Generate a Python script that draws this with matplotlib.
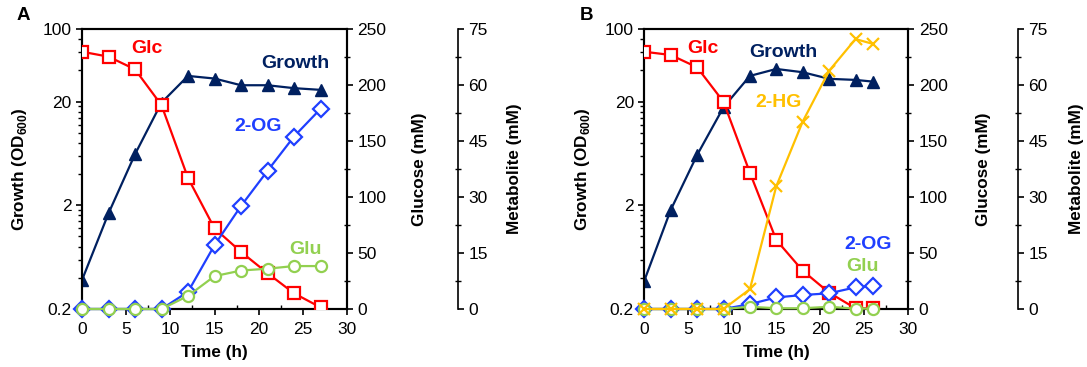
import matplotlib
matplotlib.use("Agg")
import matplotlib.pyplot as plt
from matplotlib.ticker import FixedLocator, NullFormatter

plt.rcParams['font.family'] = ['Liberation Sans', 'DejaVu Sans']
plt.rcParams['mathtext.fontset'] = 'custom'
plt.rcParams['mathtext.rm'] = 'Liberation Sans'
plt.rcParams['mathtext.bf'] = 'Liberation Sans:bold'

# ---- data: panel A ----
time_a = [0, 3, 6, 9, 12, 15, 18, 21, 24, 27]
growth_a = [0.38, 1.67, 6.2, 19.5, 35.3, 33.3, 28.7, 28.7, 26.9, 25.9]
glc_a = [229.7, 225.3, 214, 182, 117, 72, 51, 32, 14, 1.5]
og_a = [0, 0, 0, 0, 4.6, 17.1, 27.6, 37.0, 46.2, 53.6]
glu_a = [0, 0, 0, 0, 3.5, 8.8, 10.3, 10.8, 11.5, 11.5]

# ---- data: panel B ----
time_b = [0, 3, 6, 9, 12, 15, 18, 21, 24, 26]
growth_b = [0.375, 1.8, 6.1, 17.6, 35.3, 41.2, 38.3, 33.1, 32.3, 31.1]
glc_b = [229.7, 226.8, 215.8, 185, 121.7, 61.6, 34.2, 14.6, 0.6, 0.5]
hg_b = [0, 0, 0, 0, 5.3, 32.9, 50.2, 63.8, 72.3, 71.0]
og_b = [0, 0, 0, 0, 1.3, 3.1, 3.75, 4.2, 5.8, 6.2]
glu_b = [0, 0, 0, 0, 0.6, 0.2, 0.2, 0.6, 0.1, 0.1]

NAVY = '#002060'
RED = '#FF0000'
BLUE = '#1F3FFF'
GREEN = '#92D050'
ORANGE = '#FFC000'

W, H = 1087, 367
fig = plt.figure(figsize=(W / 100, H / 100), dpi=100)

lw = 1.6
mew = 1.6
TS = 12.5   # tick label size
LS = 12.3   # axis label size


def panel(left_px, width_px, letter, t, growth, glc, mets, labels, label_pos, label_coords):
    ax = fig.add_axes([left_px / W, (H - 309) / H, width_px / W, 280 / H])
    ax2 = ax.twinx()
    ax3 = ax.twinx()

    # growth (log)
    ax.set_yscale('log')
    ax.set_ylim(0.2, 100)
    ax.set_xlim(0, 30)
    ax.plot(t, growth, color=NAVY, lw=lw, marker='^', ms=8, mfc=NAVY, mec=NAVY, zorder=3)
    ax.set_yticks([0.2, 2, 20, 100])
    ax.set_yticklabels(['0.2', '2', '20', '100'])
    minors = [k * d for d in (0.2, 2, 20) for k in range(2, 10)]
    minors = [m for m in minors if m < 100]
    ax.yaxis.set_minor_locator(FixedLocator(minors))
    ax.yaxis.set_minor_formatter(NullFormatter())
    ax.set_xticks([0, 5, 10, 15, 20, 25, 30])
    ax.xaxis.set_minor_locator(FixedLocator([2.5, 7.5, 12.5, 17.5, 22.5, 27.5]))
    ax.tick_params(axis='both', which='major', direction='out', length=4, width=1.2, labelsize=TS)
    ax.tick_params(axis='x', which='major', pad=5)
    ax.tick_params(axis='x', which='minor', direction='in', length=3, width=1.0)
    ax.tick_params(axis='y', which='minor', direction='out', length=3, width=1.0)
    ax.set_xlabel('Time (h)', fontsize=LS, fontweight='bold')
    ax.xaxis.set_label_coords(0.5, -0.13)
    ax.set_ylabel(r'Growth (OD$_\mathbf{600}$)', fontsize=LS, fontweight='bold')
    ax.yaxis.set_label_coords(label_coords[0], 0.5)
    for s in ax.spines.values():
        s.set_linewidth(1.5)

    # glucose
    ax2.set_ylim(0, 250)
    ax2.plot(t, glc, color=RED, lw=lw, marker='s', ms=9, mfc='white', mec=RED, mew=mew, zorder=3)
    ax2.set_yticks([0, 50, 100, 150, 200, 250])
    ax2.yaxis.set_minor_locator(FixedLocator([25, 75, 125, 175, 225]))
    ax2.tick_params(axis='y', which='major', direction='out', length=4, width=1.2, labelsize=TS)
    ax2.tick_params(axis='y', which='minor', direction='inout', length=5, width=1.0)
    ax2.set_ylabel('Glucose (mM)', fontsize=LS, fontweight='bold')
    ax2.yaxis.set_label_coords(label_coords[1], 0.5)
    for s in ax2.spines.values():
        s.set_linewidth(1.5)

    # metabolites
    ax3.spines['right'].set_position(('axes', label_coords[3]))
    for side in ('left', 'top', 'bottom'):
        ax3.spines[side].set_visible(False)
    ax3.spines['right'].set_linewidth(1.2)
    ax3.set_ylim(0, 75)
    for vals, style in mets:
        ax3.plot(t, vals, color=style['c'], lw=lw, marker=style['m'], ms=style['ms'],
                 mfc=style.get('fc', 'white'), mec=style['c'], mew=mew, zorder=3, clip_on=False)
    ax3.set_yticks([0, 15, 30, 45, 60, 75])
    ax3.yaxis.set_minor_locator(FixedLocator([7.5, 22.5, 37.5, 52.5, 67.5]))
    ax3.tick_params(axis='y', which='major', direction='out', length=4, width=1.2, labelsize=TS)
    ax3.tick_params(axis='y', which='minor', direction='inout', length=5, width=1.0)
    ax3.set_ylabel('Metabolite (mM)', fontsize=LS, fontweight='bold')
    ax3.yaxis.set_label_coords(label_coords[2], 0.5)

    for (txt, col), (x, y) in zip(labels, label_pos):
        ax.text(x, y, txt, transform=ax.transAxes, color=col, fontsize=14,
                fontweight='bold', ha='center', va='center')

    fig.text((left_px - 65) / W, (H - 15) / H, letter, fontsize=13.5, fontweight='bold',
             ha='left', va='center')


panel(82, 265, 'A', time_a, growth_a, glc_a,
      [(og_a, dict(c=BLUE, m='D', ms=8)), (glu_a, dict(c=GREEN, m='o', ms=8))],
      [('Glc', RED), ('Growth', NAVY), ('2-OG', BLUE), ('Glu', GREEN)],
      [(0.244, 0.932), (0.804, 0.875), (0.664, 0.651), (0.842, 0.213)],
      (-0.20, 1.245, 1.603, 1.419))

panel(644.3, 264, 'B', time_b, growth_b, glc_b,
      [(og_b, dict(c=BLUE, m='D', ms=8)), (glu_b, dict(c=GREEN, m='o', ms=8)),
       (hg_b, dict(c=ORANGE, m='x', ms=9))],
      [('Glc', RED), ('Growth', NAVY), ('2-HG', ORANGE), ('2-OG', BLUE), ('Glu', GREEN)],
      [(0.223, 0.931), (0.527, 0.917), (0.508, 0.738), (0.848, 0.229), (0.827, 0.151)],
      (-0.198, 1.255, 1.607, 1.416))

fig.savefig('out.png', dpi=100)
